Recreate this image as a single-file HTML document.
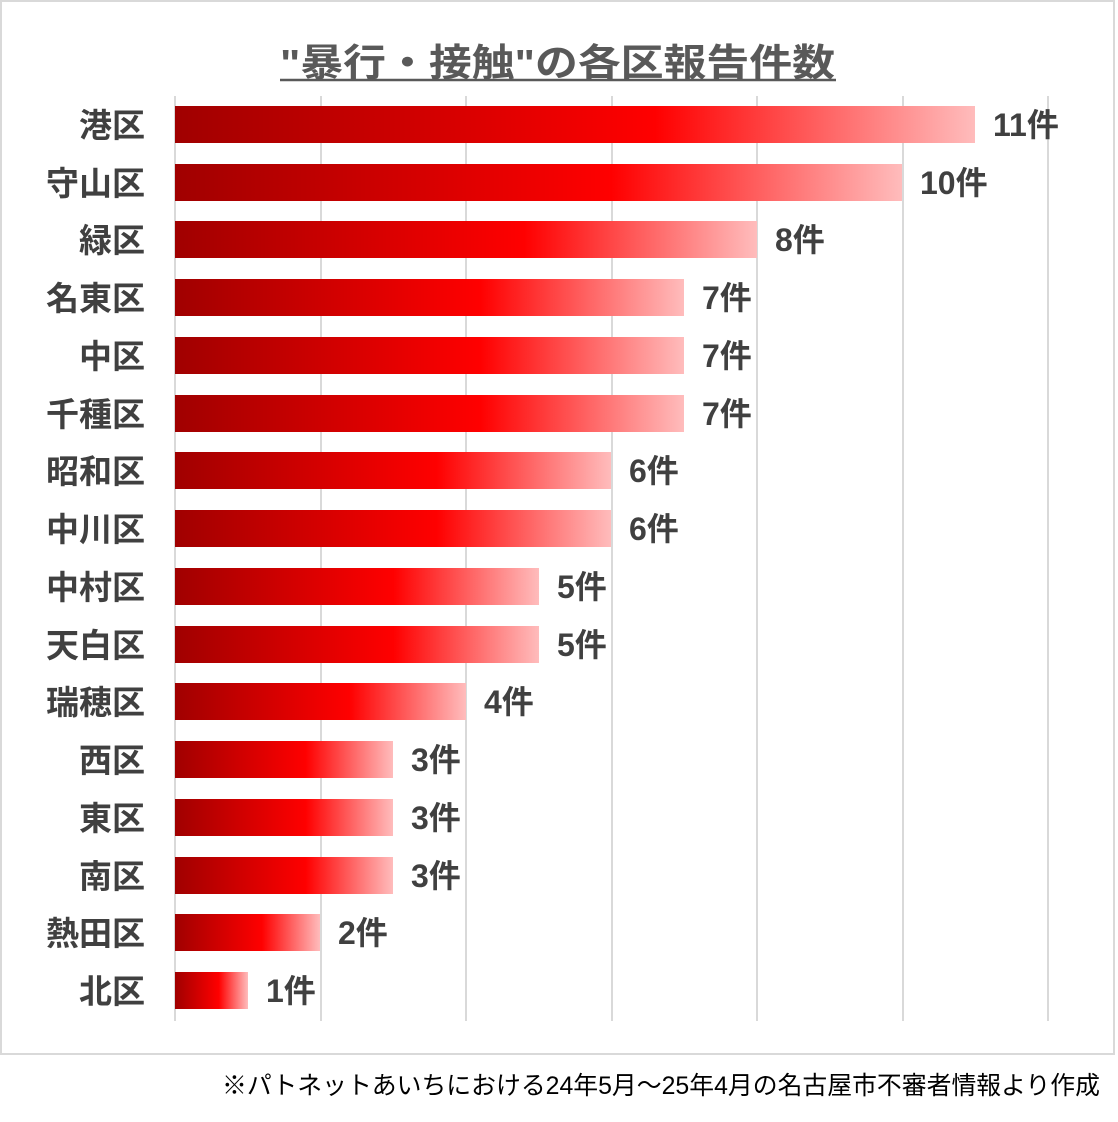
<!DOCTYPE html>
<html><head><meta charset="utf-8"><style>
body{margin:0;background:#fff;}
svg text{font-family:"Liberation Sans","Noto Sans CJK JP",sans-serif;}
</style></head><body>
<svg width="1118" height="1117" viewBox="0 0 1118 1117" xmlns="http://www.w3.org/2000/svg">
<defs>
<linearGradient id="g" x1="0" y1="0" x2="1" y2="0">
<stop offset="0" stop-color="#a00000"/>
<stop offset="0.6" stop-color="#ff0000"/>
<stop offset="1" stop-color="#ffbcbc"/>
</linearGradient>
</defs>
<rect x="1" y="1" width="1113" height="1053" fill="#fff" stroke="#d9d9d9" stroke-width="2"/>
<text x="280" y="76" font-size="38" font-weight="bold" fill="#595959" textLength="555" lengthAdjust="spacingAndGlyphs">"暴行・接触"の各区報告件数</text>
<line x1="280" y1="80" x2="836" y2="80" stroke="#595959" stroke-width="2.5"/>
<g stroke="#d9d9d9" stroke-width="2">
<line x1="175" y1="96" x2="175" y2="1021"/>
<line x1="321" y1="96" x2="321" y2="1021"/>
<line x1="466" y1="96" x2="466" y2="1021"/>
<line x1="612" y1="96" x2="612" y2="1021"/>
<line x1="757" y1="96" x2="757" y2="1021"/>
<line x1="903" y1="96" x2="903" y2="1021"/>
<line x1="1048" y1="96" x2="1048" y2="1021"/>
</g>
<g font-weight="bold" fill="#404040">
<rect x="175" y="106" width="800" height="37" fill="url(#g)"/><text x="145" y="137" font-size="33" text-anchor="end">港区</text><text x="993" y="136" font-size="32">11件</text>
<rect x="175" y="164" width="727" height="37" fill="url(#g)"/><text x="145" y="195" font-size="33" text-anchor="end">守山区</text><text x="920" y="194" font-size="32">10件</text>
<rect x="175" y="221" width="582" height="37" fill="url(#g)"/><text x="145" y="252" font-size="33" text-anchor="end">緑区</text><text x="775" y="251" font-size="32">8件</text>
<rect x="175" y="279" width="509" height="37" fill="url(#g)"/><text x="145" y="310" font-size="33" text-anchor="end">名東区</text><text x="702" y="309" font-size="32">7件</text>
<rect x="175" y="337" width="509" height="37" fill="url(#g)"/><text x="145" y="368" font-size="33" text-anchor="end">中区</text><text x="702" y="367" font-size="32">7件</text>
<rect x="175" y="395" width="509" height="37" fill="url(#g)"/><text x="145" y="426" font-size="33" text-anchor="end">千種区</text><text x="702" y="425" font-size="32">7件</text>
<rect x="175" y="452" width="436" height="37" fill="url(#g)"/><text x="145" y="483" font-size="33" text-anchor="end">昭和区</text><text x="629" y="482" font-size="32">6件</text>
<rect x="175" y="510" width="436" height="37" fill="url(#g)"/><text x="145" y="541" font-size="33" text-anchor="end">中川区</text><text x="629" y="540" font-size="32">6件</text>
<rect x="175" y="568" width="364" height="37" fill="url(#g)"/><text x="145" y="599" font-size="33" text-anchor="end">中村区</text><text x="557" y="598" font-size="32">5件</text>
<rect x="175" y="626" width="364" height="37" fill="url(#g)"/><text x="145" y="657" font-size="33" text-anchor="end">天白区</text><text x="557" y="656" font-size="32">5件</text>
<rect x="175" y="683" width="291" height="37" fill="url(#g)"/><text x="145" y="714" font-size="33" text-anchor="end">瑞穂区</text><text x="484" y="713" font-size="32">4件</text>
<rect x="175" y="741" width="218" height="37" fill="url(#g)"/><text x="145" y="772" font-size="33" text-anchor="end">西区</text><text x="411" y="771" font-size="32">3件</text>
<rect x="175" y="799" width="218" height="37" fill="url(#g)"/><text x="145" y="830" font-size="33" text-anchor="end">東区</text><text x="411" y="829" font-size="32">3件</text>
<rect x="175" y="857" width="218" height="37" fill="url(#g)"/><text x="145" y="888" font-size="33" text-anchor="end">南区</text><text x="411" y="887" font-size="32">3件</text>
<rect x="175" y="914" width="145" height="37" fill="url(#g)"/><text x="145" y="945" font-size="33" text-anchor="end">熱田区</text><text x="338" y="944" font-size="32">2件</text>
<rect x="175" y="972" width="73" height="37" fill="url(#g)"/><text x="145" y="1003" font-size="33" text-anchor="end">北区</text><text x="266" y="1002" font-size="32">1件</text>
</g>
<text x="222" y="1094" font-size="25" fill="#000" textLength="878" lengthAdjust="spacingAndGlyphs">※パトネットあいちにおける24年5月～25年4月の名古屋市不審者情報より作成</text>
</svg>
</body></html>
